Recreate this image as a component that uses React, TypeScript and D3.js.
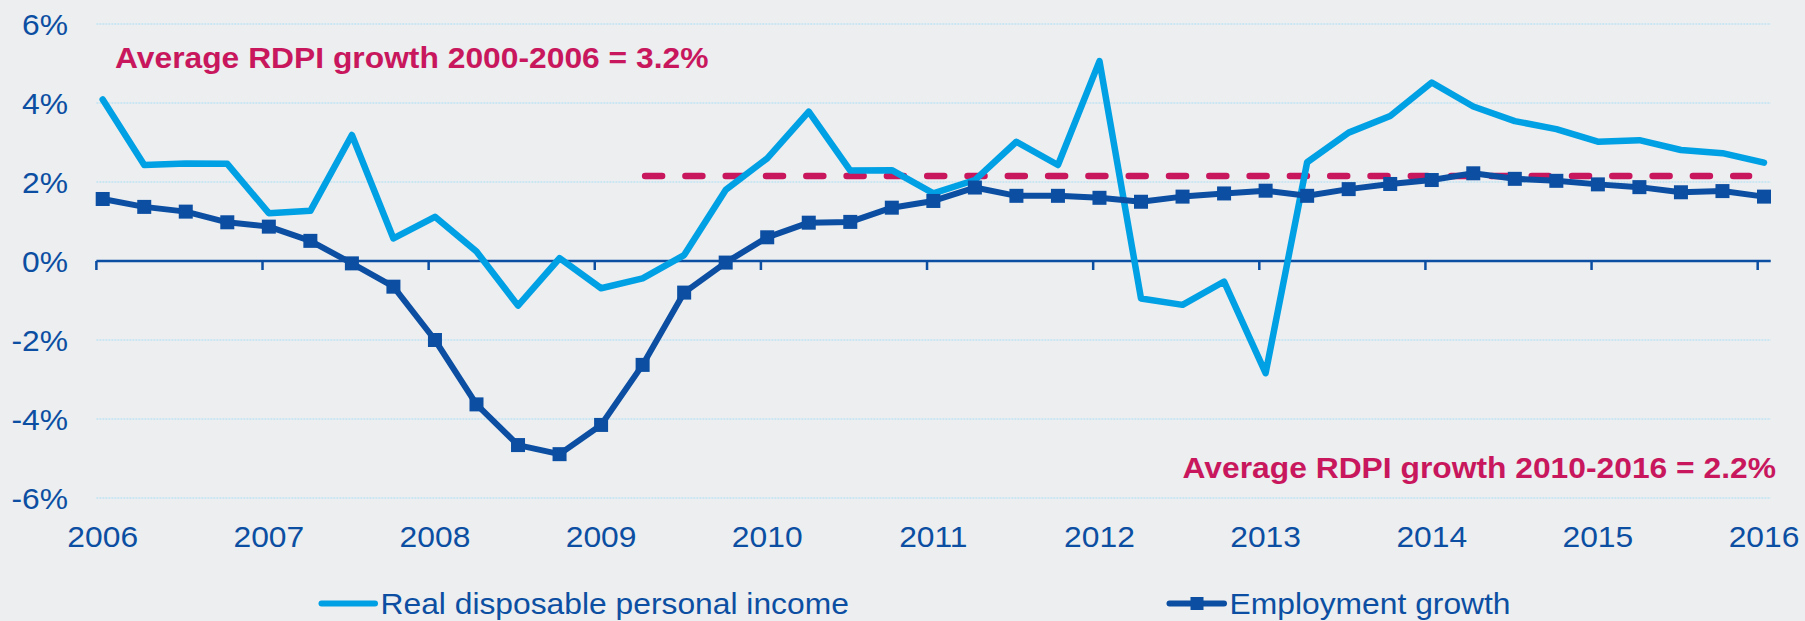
import React from "react";
import * as d3 from "d3";

// quarterly observations, 2006 Q1 .. 2016 Q1
const rdpi = [
  4.09, 2.43, 2.47, 2.46, 1.21, 1.27, 3.19, 0.57, 1.12, 0.24, -1.13, 0.07, -0.69,
  -0.44, 0.15, 1.8, 2.6, 3.78, 2.29, 2.3, 1.71, 2.05, 3.02, 2.43, 5.06, -0.95,
  -1.11, -0.52, -2.84, 2.5, 3.25, 3.67, 4.52, 3.91, 3.54, 3.34, 3.02, 3.06, 2.81,
  2.73, 2.49,
];
const employment = [
  1.57, 1.37, 1.25, 0.98, 0.87, 0.51, -0.06, -0.65, -2.0, -3.63, -4.66, -4.89,
  -4.15, -2.63, -0.8, -0.04, 0.6, 0.97, 0.99, 1.35, 1.52, 1.86, 1.65, 1.65, 1.6,
  1.5, 1.63, 1.71, 1.78, 1.65, 1.82, 1.95, 2.05, 2.22, 2.08, 2.03, 1.94, 1.87,
  1.74, 1.77, 1.63,
];
const years = [2006, 2007, 2008, 2009, 2010, 2011, 2012, 2013, 2014, 2015, 2016];
const yTicks = [6, 4, 2, 0, -2, -4, -6];
const avgLine = { from: 2009.265, to: 2015.91, value: 2.15 };
const seriesNames = ["Real disposable personal income", "Employment growth"];
const notes = [
  "Average RDPI growth 2000-2006 = 3.2%",
  "Average RDPI growth 2010-2016 = 2.2%",
];

const W = 1805;
const H = 621;
const BG = "#eceef0";
const LIGHT = "#00a0e4";
const DARK = "#0b4ea2";
const PINK = "#c8175d";
const FS = 30;
const SX = 1.06; // text in the source is slightly wide

const quarterOf = (i: number) => 2006 + i / 4;

const x = d3.scaleLinear().domain([2006, 2016]).range([102.7, 1764]);
const y = d3.scaleLinear().domain([-6, 6]).range([498, 24]);
const tickShift = -0.038;
const axisStart = x(2006 + tickShift);
const axisEnd = x(2016.0405);

const line = d3
  .line<number>()
  .x((_, i) => x(quarterOf(i)))
  .y((d) => y(d));

const T = ({
  x0,
  y0,
  anchor = "start",
  bold = false,
  color = DARK,
  children,
}: {
  x0: number;
  y0: number;
  anchor?: string;
  bold?: boolean;
  color?: string;
  children: React.ReactNode;
}) => (
  <text
    transform={`translate(${x0},${y0}) scale(${SX},1)`}
    textAnchor={anchor as any}
    fontFamily="'Liberation Sans', Arial, sans-serif"
    fontSize={FS}
    fontWeight={bold ? "bold" : "normal"}
    fill={color}
  >
    {children}
  </text>
);

export default function App() {
  return (
    <svg
      width={W}
      height={H}
      style={{ position: "absolute", left: 0, top: 0, display: "block" }}
    >
      <rect width={W} height={H} fill={BG} />

      {/* gridlines + y labels */}
      {yTicks.map((t) => (
        <g key={t}>
          {t !== 0 && (
            <line
              x1={axisStart}
              x2={axisEnd}
              y1={y(t)}
              y2={y(t)}
              stroke="#a9def4"
              strokeWidth={1}
              strokeDasharray="2 1"
            />
          )}
          <T x0={68} y0={y(t) + 10.7} anchor="end">
            {t}%
          </T>
        </g>
      ))}

      {/* x axis */}
      <line
        x1={axisStart}
        x2={axisEnd}
        y1={y(0)}
        y2={y(0)}
        stroke={DARK}
        strokeWidth={2.5}
      />
      {years.map((yr) => (
        <g key={yr}>
          <line
            x1={x(yr + tickShift)}
            x2={x(yr + tickShift)}
            y1={y(0)}
            y2={y(0) + 9}
            stroke={DARK}
            strokeWidth={2.5}
          />
          <T x0={x(yr)} y0={547} anchor="middle">
            {yr}
          </T>
        </g>
      ))}

      {/* average line */}
      <line
        x1={x(avgLine.from)}
        x2={x(avgLine.to)}
        y1={y(avgLine.value)}
        y2={y(avgLine.value)}
        stroke={PINK}
        strokeWidth={6.5}
        strokeLinecap="round"
        strokeDasharray="17 23.3"
      />

      {/* series */}
      <path
        d={line(rdpi) || ""}
        fill="none"
        stroke={LIGHT}
        strokeWidth={6.5}
        strokeLinejoin="round"
        strokeLinecap="round"
      />
      <path
        d={line(employment) || ""}
        fill="none"
        stroke={DARK}
        strokeWidth={6}
        strokeLinejoin="round"
      />
      {employment.map((v, i) => (
        <rect
          key={i}
          x={x(quarterOf(i)) - 7}
          y={y(v) - 7}
          width={14}
          height={14}
          fill={DARK}
        />
      ))}

      {/* annotations */}
      <T x0={115} y0={67.7} bold color={PINK}>
        {notes[0]}
      </T>
      <T x0={1776} y0={478} anchor="end" bold color={PINK}>
        {notes[1]}
      </T>

      {/* legend */}
      <line
        x1={321.5}
        x2={375}
        y1={603.5}
        y2={603.5}
        stroke={LIGHT}
        strokeWidth={6}
        strokeLinecap="round"
      />
      <T x0={380.5} y0={614}>
        {seriesNames[0]}
      </T>
      <line
        x1={1169.5}
        x2={1224}
        y1={603.5}
        y2={603.5}
        stroke={DARK}
        strokeWidth={6}
        strokeLinecap="round"
      />
      <rect x={1190.5} y={597} width={13} height={13} fill={DARK} />
      <T x0={1229.6} y0={614}>
        {seriesNames[1]}
      </T>
    </svg>
  );
}
